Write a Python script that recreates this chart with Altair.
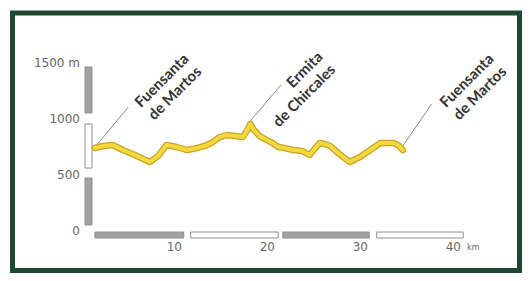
import altair as alt
import pandas as pd

# ---- data ----
km = [0.1, 1.0, 2.0, 3.1, 4.4, 6.0, 6.9, 7.8, 8.9, 10.0, 11.1, 11.9, 12.8, 13.5, 14.3,
      15.2, 16.0, 16.5, 16.8, 17.2, 17.8, 18.6, 19.2, 19.8, 20.5, 21.4, 22.4, 23.2,
      23.8, 24.3, 24.8, 25.4, 26.5, 27.5, 28.6, 29.7, 30.8, 32.2, 32.7, 33.2]
elev = [741, 759, 768, 723, 679, 616, 670, 768, 750, 723, 741, 759, 795, 839, 857,
        848, 839, 902, 955, 902, 848, 812, 786, 750, 741, 723, 714, 679,
        741, 786, 777, 759, 679, 616, 661, 723, 786, 786, 768, 723]

place_names = ["Fuensanta\nde Martos", "Ermita\nde Chircales", "Fuensanta\nde Martos"]
place_km = [0.3, 16.8, 33.2]
place_elev = [768, 982, 759]
leader_end_km = [3.7, 20.1, 36.3]
leader_end_elev = [1107, 1304, 1134]
label_km = [9.9, 24.3, 42.7]
label_elev = [1560, 1577, 1560]

ytick_vals = [0, 500, 1000, 1500]
ytick_text = ["0", "500", "1000", "1500 m"]
xtick_vals = [10, 20, 30, 40]
xtick_text = ["10", "20", "30", "40"]
x_unit = "km"

yseg_start = [54, 562, 1054]
yseg_end = [473, 955, 1464]
xseg_start = [0.1, 10.4, 20.3, 30.4]
xseg_end = [9.65, 19.8, 29.6, 39.7]

# ---- layout ----
W, H = 515, 265
xs = alt.Scale(domain=[-9.247, 46.129], nice=False, zero=False)
ys = alt.Scale(domain=[-375, 1991], nice=False, zero=False)
FONT = "DejaVu Sans"
GRAY = "#a2a2a2"
shade_scale = alt.Scale(domain=[0, 1], range=[GRAY, "#ffffff"])

profile = pd.DataFrame({"km": km, "elev": elev})
places = pd.DataFrame({"name": place_names, "km": place_km, "elev": place_elev,
                       "km2": leader_end_km, "elev2": leader_end_elev,
                       "lkm": label_km, "lelev": label_elev})
yt = pd.DataFrame({"v": ytick_vals, "t": ytick_text})
xt = pd.DataFrame({"v": xtick_vals, "t": xtick_text})
unit = pd.DataFrame({"v": [xtick_vals[-1]], "t": [x_unit]})
yseg = pd.DataFrame({"a": yseg_start, "b": yseg_end, "s": [i % 2 for i in range(len(yseg_start))]})
xseg = pd.DataFrame({"a": xseg_start, "b": xseg_end, "s": [i % 2 for i in range(len(xseg_start))]})

frame = alt.Chart(pd.DataFrame({"o": [0]})).mark_rect(
    fill="#ffffff", fillOpacity=0, stroke="#1f4833", strokeWidth=5
).encode(x=alt.value(4.5), x2=alt.value(511.5), y=alt.value(5), y2=alt.value(262.5))

ybars = alt.Chart(yseg).mark_rect(stroke="#8f8f8f", strokeWidth=1).encode(
    x=alt.value(77), x2=alt.value(84),
    y=alt.Y("a:Q", scale=ys, axis=None), y2="b:Q",
    fill=alt.Fill("s:O", scale=shade_scale, legend=None))

xbars = alt.Chart(xseg).mark_rect(stroke="#8f8f8f", strokeWidth=1).encode(
    x=alt.X("a:Q", scale=xs, axis=None), x2="b:Q",
    y=alt.value(224), y2=alt.value(230),
    fill=alt.Fill("s:O", scale=shade_scale, legend=None))

ylabels = alt.Chart(yt).mark_text(align="right", baseline="middle", font=FONT,
                                  fontSize=12, color="#666666").encode(
    y=alt.Y("v:Q", scale=ys, axis=None), x=alt.value(72), text="t:N")

xlabels = alt.Chart(xt).mark_text(align="right", baseline="middle", font=FONT,
                                  fontSize=12, color="#666666", dx=-5).encode(
    x=alt.X("v:Q", scale=xs, axis=None), y=alt.value(239), text="t:N")

unitlabel = alt.Chart(unit).mark_text(align="left", baseline="middle", font=FONT,
                                      fontSize=8, color="#666666", dx=1).encode(
    x=alt.X("v:Q", scale=xs, axis=None), y=alt.value(240), text="t:N")

leaders = alt.Chart(places).mark_rule(color="#8a8a8a", strokeWidth=1).encode(
    x=alt.X("km:Q", scale=xs, axis=None), x2="km2:Q",
    y=alt.Y("elev:Q", scale=ys, axis=None), y2="elev2:Q")

names = alt.Chart(places).mark_text(align="right", baseline="middle", angle=315,
                                    lineBreak="\n", lineHeight=18, font="Lato",
                                    fontWeight="bold", fontSize=15,
                                    color="#333333").encode(
    x=alt.X("lkm:Q", scale=xs, axis=None),
    y=alt.Y("lelev:Q", scale=ys, axis=None), text="name:N")

line_under = alt.Chart(profile).mark_line(color="#c6a52a", strokeWidth=6.5,
                                          strokeJoin="round", strokeCap="round").encode(
    x=alt.X("km:Q", scale=xs, axis=None), y=alt.Y("elev:Q", scale=ys, axis=None))
line_top = alt.Chart(profile).mark_line(color="#f3d83e", strokeWidth=4,
                                        strokeJoin="round", strokeCap="round").encode(
    x=alt.X("km:Q", scale=xs, axis=None), y=alt.Y("elev:Q", scale=ys, axis=None))

chart = alt.layer(frame, ybars, xbars, ylabels, xlabels, unitlabel, leaders, names,
                  line_under, line_top).properties(
    width=W, height=H, padding=0, autosize=alt.AutoSizeParams(type="none"),
    background="#ffffff"
).configure_view(stroke=None)

chart.save("out.html", embed_options={"renderer": "svg", "actions": False})
